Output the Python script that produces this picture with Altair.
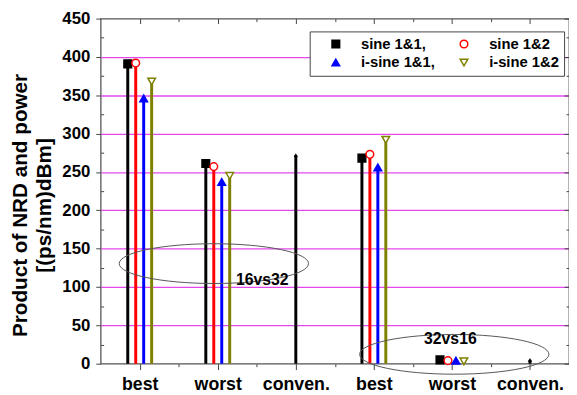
import json
import altair as alt
import pandas as pd

# ---- data ----
series = ["sine 1&1,", "sine 1&2", "i-sine 1&1,", "i-sine 1&2"]
categories = ["best", "worst", "conven.", "best", "worst", "conven."]
series_groups = [1, 2, 4, 5]
sine_11 = [391, 261, 268, 5]
sine_12 = [392, 257, 273, 4]
isine_11 = [346, 237, 256, 4]
isine_12 = [368, 245, 292, 3]
conven_groups = [3, 6]
conven_vals = [272, 5]

# annotations (ellipses + labels), in data units
ellipse_x = [1.95, 5.03]
ellipse_y = [130.5, 12.2]
label_text = ["16vs32", "32vs16"]
label_x = [2.57, 4.98]
label_y = [109, 31.5]

colors = ["#000000", "#ff0000", "#0000ff", "#808000"]
fills = ["#000000", "#ffffff", "#0000ff", "#ffffff"]
shapes = ["square", "circle", "triangle-up", "triangle-down"]

FONT = "Liberation Sans"
W, H = 475, 350

rows = []
for i, (s, vals) in enumerate(zip(series, [sine_11, sine_12, isine_11, isine_12])):
    for g, v in zip(series_groups, vals):
        rows.append({"series": s, "idx": i, "group": g, "value": v})
main_df = pd.DataFrame(rows)
conv_df = pd.DataFrame({"group": conven_groups, "value": conven_vals})
ell_df = pd.DataFrame({"x": ellipse_x, "y": ellipse_y})
lab_df = pd.DataFrame({"x": label_x, "y": label_y, "t": label_text})

# legend lays entries out column by column: reorder so rows read left to right
order = [0, 2, 1, 3]
leg_domain = [series[i] for i in order]
leg_colors = [colors[i] for i in order]
leg_fills = [fills[i] for i in order]
leg_shapes = [shapes[i] for i in order]

xscale = alt.Scale(domain=[0.5, 6.5], nice=False, zero=False)
yscale = alt.Scale(domain=[0, 450], nice=False, zero=False)
label_expr = json.dumps(categories) + "[datum.value - 1]"

grid_col = {"condition": {"test": "datum.value == 0 || datum.value == 450", "value": "transparent"},
            "value": "#e448ec"}

stroke_enc = alt.Stroke("series:N", scale=alt.Scale(domain=leg_domain, range=leg_colors), title=None)

# Layer 1: stems of the four series, with main axes
stems = alt.Chart(main_df).transform_calculate(
    xpos="datum.group + (datum.idx - 1.5) * 0.102"
).mark_rule(strokeWidth=3).encode(
    x=alt.X("xpos:Q", scale=xscale, axis=alt.Axis(
        orient="bottom", values=[1, 2, 3, 4, 5, 6], labelExpr=label_expr, title=None,
        tickSize=6, tickColor="#444", tickWidth=1, domain=False, grid=False,
        labelFont=FONT, labelFontSize=18, labelFontWeight="bold", labelColor="black",
        labelPadding=6)),
    y=alt.Y("value:Q", scale=yscale, axis=alt.Axis(
        orient="left", values=list(range(0, 451, 50)), tickSize=5, tickColor="#444",
        domain=False, grid=True, gridColor=grid_col, gridWidth=1.3,
        labelFont=FONT, labelFontSize=17, labelFontWeight="bold", labelColor="black",
        labelPadding=6,
        title=["Product of NRD and power", "[(ps/nm)dBm]"],
        titleFont=FONT, titleFontSize=21, titleFontWeight="bold", titleColor="black",
        titleLineHeight=24, titlePadding=8, titleY=189)),
    y2=alt.datum(0),
    stroke=stroke_enc,
)

# Layer 2: markers of the four series (legend), minor ticks bottom / left inward
markers = alt.Chart(main_df).transform_calculate(
    xpos="datum.group + (datum.idx - 1.5) * 0.102"
).mark_point(filled=True, size=60, strokeWidth=1.5, opacity=1).encode(
    x=alt.X("xpos:Q", scale=xscale, axis=alt.Axis(
        orient="bottom", values=[1.5, 2.5, 3.5, 4.5, 5.5], tickSize=3, tickColor="#444",
        labels=False, domain=False, grid=False, title=None)),
    y=alt.Y("value:Q", scale=yscale, axis=alt.Axis(
        orient="right", offset=-W, values=list(range(25, 450, 50)), tickSize=3,
        tickColor="#444", labels=False, domain=False, grid=False, title=None)),
    stroke=stroke_enc,
    fill=alt.Fill("series:N", scale=alt.Scale(domain=leg_domain, range=leg_fills), title=None),
    shape=alt.Shape("series:N", scale=alt.Scale(domain=leg_domain, range=leg_shapes), title=None),
)

# Layer 3: conventional stems, top and right inward major ticks
conv_stems = alt.Chart(conv_df).mark_rule(strokeWidth=3, color="black").encode(
    x=alt.X("group:Q", scale=xscale, axis=alt.Axis(
        orient="bottom", offset=-H, values=[1, 2, 3, 4, 5, 6], tickSize=5, tickColor="#444",
        labels=False, domain=False, grid=False, title=None)),
    y=alt.Y("value:Q", scale=yscale, axis=alt.Axis(
        orient="left", offset=-W, values=list(range(0, 451, 50)), tickSize=5,
        tickColor="#444", labels=False, domain=False, grid=False, title=None)),
    y2=alt.datum(0),
)

# Layer 4: small caps on conventional stems, minor ticks top / right
conv_marks = alt.Chart(conv_df).mark_point(
    filled=True, shape="triangle-up", size=18, color="black", opacity=1).encode(
    x=alt.X("group:Q", scale=xscale, axis=alt.Axis(
        orient="bottom", offset=-H, values=[1.5, 2.5, 3.5, 4.5, 5.5], tickSize=3,
        tickColor="#444", labels=False, domain=False, grid=False, title=None)),
    y=alt.Y("value:Q", scale=yscale, axis=alt.Axis(
        orient="left", offset=-W, values=list(range(25, 450, 50)), tickSize=3,
        tickColor="#444", labels=False, domain=False, grid=False, title=None)),
)

ellipse_path = ("M -1 0 C -1 -0.116 -0.552 -0.21 0 -0.21 C 0.552 -0.21 1 -0.116 1 0 "
                "C 1 0.116 0.552 0.21 0 0.21 C -0.552 0.21 -1 0.116 -1 0 Z")
ellipses = alt.Chart(ell_df).mark_point(
    shape=ellipse_path, size=192 * 192, stroke="#555555", strokeWidth=1,
    filled=False, opacity=1).encode(
    x=alt.X("x:Q", scale=xscale, axis=None),
    y=alt.Y("y:Q", scale=yscale, axis=None),
)

labels = alt.Chart(lab_df).mark_text(
    font=FONT, fontSize=16, fontWeight="bold", color="black").encode(
    x=alt.X("x:Q", scale=xscale, axis=None),
    y=alt.Y("y:Q", scale=yscale, axis=None),
    text="t:N",
)

chart = alt.layer(stems, markers, conv_stems, conv_marks, ellipses, labels).resolve_axis(
    x="independent", y="independent"
).properties(
    width=W, height=H,
    autosize=alt.AutoSizeParams(type="none"),
    padding={"left": 94, "top": 8, "right": 0, "bottom": 28},
).configure_view(
    stroke="#555555", strokeWidth=1.3
).configure_legend(
    orient="none", legendX=212, legendY=13, columns=2,
    strokeColor="#444444", fillColor="white", padding=5,
    labelFont=FONT, labelFontSize=15, labelFontWeight="bold", labelColor="black",
    symbolOffset=14, labelOffset=18, columnPadding=7, rowPadding=3,
    symbolSize=60, symbolStrokeWidth=1.5,
)

chart.save("out.html", embed_options={"renderer": "svg", "actions": False})
